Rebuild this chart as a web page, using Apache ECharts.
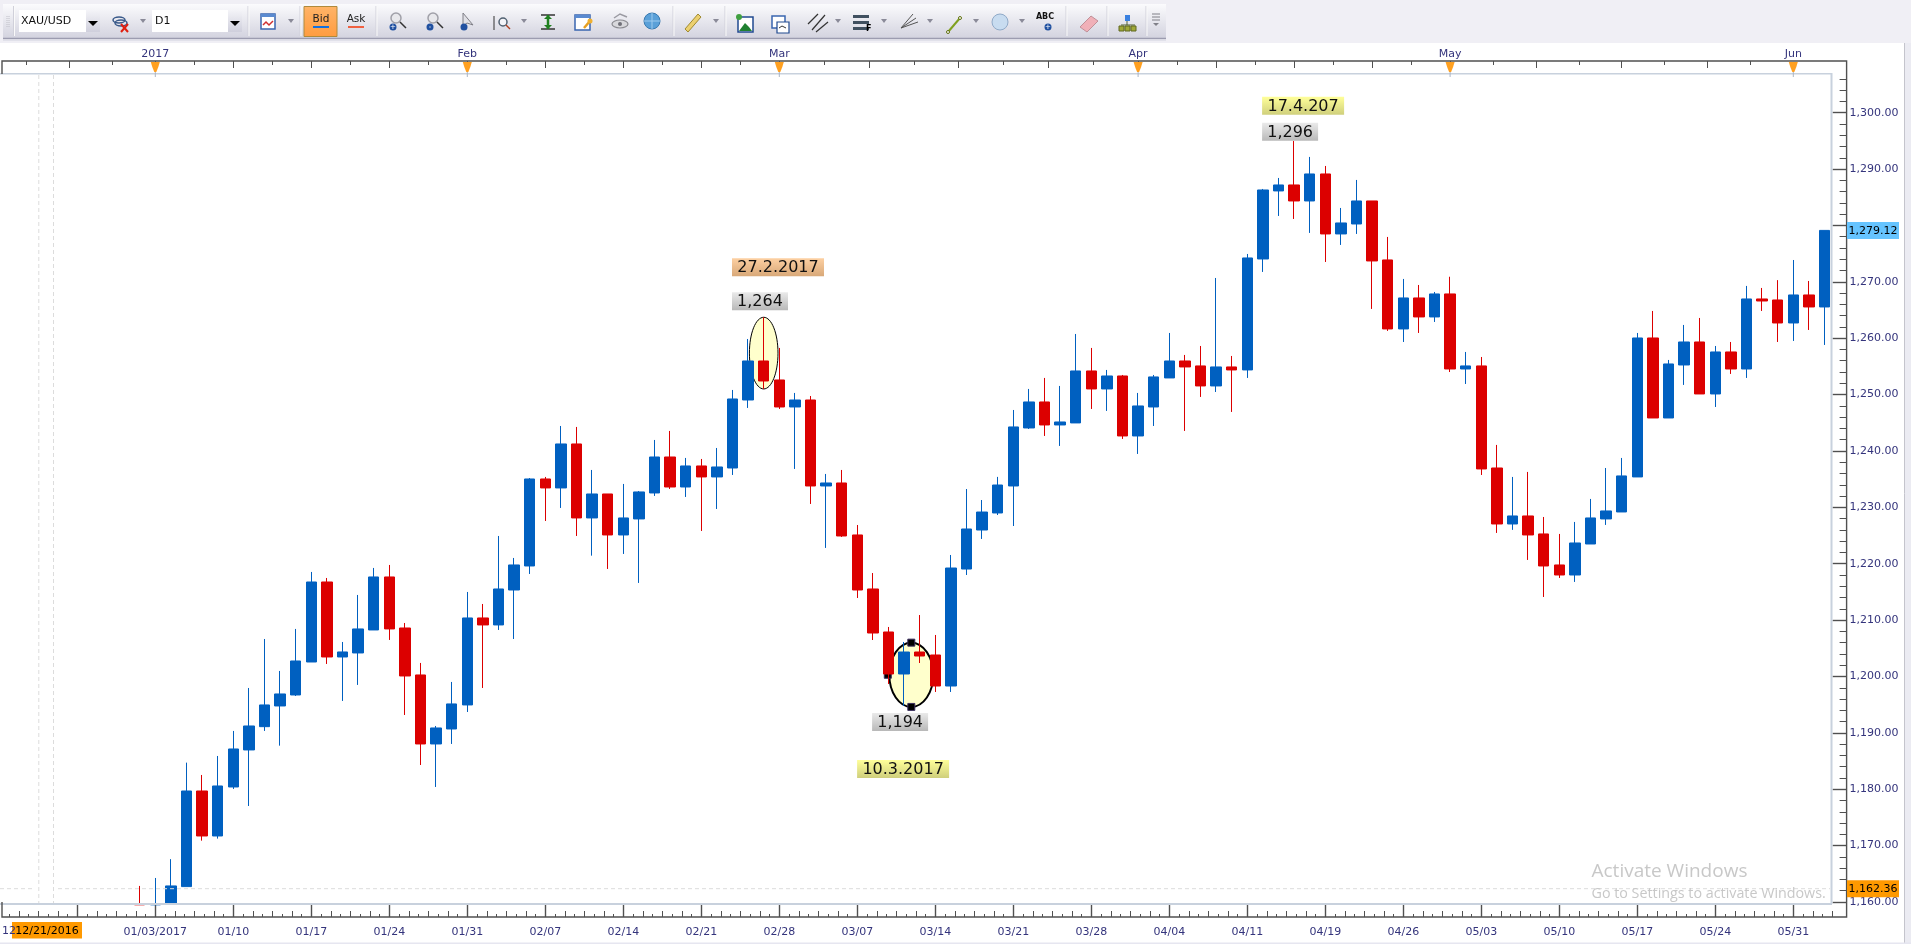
<!DOCTYPE html>
<html>
<head>
<meta charset="utf-8">
<title>XAU/USD D1</title>
<style>
html,body{margin:0;padding:0;background:#fff;overflow:hidden}
#main{width:1911px;height:944px}
</style>
<script src="https://cdn.jsdelivr.net/npm/echarts@6/dist/echarts.min.js"></script>
</head>
<body>
<div id="main"></div>
<script>
// 日期(每根K线一个)
var dates = ['12/21/2016','12/22','12/23','12/26','12/27','12/28','12/29','12/30','01/02','01/03/2017',
    '01/04','01/05','01/06','01/09','01/10','01/11','01/12','01/13','01/16','01/17',
    '01/18','01/19','01/20','01/23','01/24','01/25','01/26','01/27','01/30','01/31',
    '02/01','02/02','02/03','02/06','02/07','02/08','02/09','02/10','02/13','02/14',
    '02/15','02/16','02/17','02/20','02/21','02/22','02/23','02/24','02/27','02/28',
    '03/01','03/02','03/03','03/06','03/07','03/08','03/09','03/10','03/13','03/14',
    '03/15','03/16','03/17','03/20','03/21','03/22','03/23','03/24','03/27','03/28',
    '03/29','03/30','03/31','04/03','04/04','04/05','04/06','04/07','04/10','04/11',
    '04/12','04/13','04/17','04/18','04/19','04/20','04/21','04/24','04/25','04/26',
    '04/27','04/28','05/01','05/02','05/03','05/04','05/05','05/08','05/09','05/10',
    '05/11','05/12','05/15','05/16','05/17','05/18','05/19','05/22','05/23','05/24',
    '05/25','05/26','05/29','05/30','05/31','06/01','06/02'];
// 前三根的实体在价格轴下面,看不到,只取到轴底
var opens = [null,null,null,null,null,null,null,null,1159.7,1159.5,
    1159.6,1162.73,1179.69,1171.71,1180.4,1186.97,1191.1,1194.77,1196.72,1202.57,
    1216.76,1203.46,1204.17,1208.25,1217.65,1208.6,1200.27,1188.03,1190.69,1194.95,
    1210.38,1209.14,1215.34,1219.6,1235.03,1233.44,1241.24,1228.12,1232.37,1225.1,
    1227.94,1232.55,1238.93,1233.61,1237.34,1235.39,1236.98,1249.04,1255.96,1252.59,
    1247.8,1249.04,1233.79,1234.32,1225.1,1215.52,1207.89,1200.44,1204.34,1203.81,
    1198.31,1219.06,1225.98,1229,1233.79,1244.08,1248.69,1244.61,1244.97,1254.19,
    1251,1253.3,1242.66,1247.8,1252.95,1255.96,1255.08,1251.53,1254.9,1254.37,
    1274.05,1286.12,1287.18,1284.34,1289.13,1278.49,1280.26,1284.34,1273.88,1261.64,
    1267.14,1263.77,1267.85,1254.54,1255.08,1236.98,1227.05,1228.47,1225.28,1219.78,
    1218,1223.5,1227.94,1229.18,1235.39,1260.04,1245.85,1255.25,1259.33,1250.11,
    1257.56,1254.54,1266.96,1266.78,1262.7,1267.67,1265.54];
var closes = [null,null,null,null,null,null,null,null,1159.5,1159.7,
    1162.85,1179.69,1171.71,1180.58,1187.14,1191.22,1194.95,1196.9,1202.75,1216.76,
    1203.46,1204.35,1208.43,1217.65,1208.43,1200.09,1188.03,1190.87,1195.13,1210.38,
    1209.14,1215.52,1219.78,1235.03,1233.44,1241.24,1228.12,1232.37,1225.1,1228.12,
    1232.73,1238.93,1233.61,1237.34,1235.39,1237.16,1249.22,1255.96,1252.41,1247.8,
    1249.04,1233.79,1234.32,1224.92,1215.34,1207.71,1200.44,1204.34,1203.63,1198.31,
    1219.24,1226.16,1229.17,1233.96,1244.26,1248.69,1244.61,1245.14,1254.19,1251,
    1253.3,1242.66,1247.98,1253.13,1255.96,1254.9,1251.53,1254.9,1254.37,1274.23,
    1286.29,1287.18,1284.34,1289.13,1278.49,1280.44,1284.34,1273.7,1261.64,1267.14,
    1263.77,1267.85,1254.54,1255.08,1236.81,1227.05,1228.47,1225.1,1219.6,1218,
    1223.68,1228.12,1229.36,1235.57,1260.04,1245.85,1255.43,1259.33,1250.11,1257.56,
    1254.54,1266.96,1266.6,1262.7,1267.67,1265.54,1279.12];
var lows = [null,null,null,null,null,null,null,null,1159.5,1159.5,
    1159.6,1162.73,1170.88,1171.24,1180.05,1177.03,1190.34,1187.73,1196.54,1202.57,
    1202.22,1195.66,1198.5,1208.25,1206.48,1193.17,1184.3,1180.4,1188.03,1193.7,
    1197.96,1208.25,1206.65,1218.18,1227.58,1229.89,1224.92,1221.43,1219.07,1221.73,
    1216.59,1232.02,1233.26,1231.84,1225.81,1229.71,1235.74,1247.63,1251,1247.45,
    1236.81,1230.6,1222.8,1224.75,1213.92,1206.47,1198.67,1194.77,1202.39,1197.25,
    1197.25,1218,1224.39,1228.64,1226.69,1243.9,1242.66,1240.89,1244.97,1247.45,
    1247.1,1242.13,1239.47,1244.43,1252.95,1243.55,1249.58,1250.46,1246.92,1252.95,
    1271.75,1281.68,1281.15,1278.67,1273.52,1276.54,1278.49,1265.19,1261.29,1259.33,
    1260.93,1262.88,1254,1251.88,1235.74,1225.46,1226,1220.67,1214.1,1217.47,
    1216.77,1223.5,1226.88,1229.18,1235.39,1245.85,1245.85,1251.71,1250.11,1247.8,
    1253.66,1252.95,1264.83,1259.33,1259.51,1261.46,1258.8];
var highs = [null,null,null,null,null,null,null,null,1162.85,1164.26,
    1167.6,1184.72,1182.53,1185.9,1190.34,1197.96,1206.65,1200.98,1208.43,1218.54,
    1217.47,1206.12,1214.46,1219.25,1219.78,1209.49,1202.4,1191.22,1199.03,1214.99,
    1212.86,1224.92,1221.02,1235.2,1235.39,1244.43,1244.26,1236.63,1232.37,1234.15,
    1232.9,1241.95,1243.55,1238.76,1238.58,1240.53,1250.82,1259.86,1263.71,1258.27,
    1250.29,1249.75,1235.92,1236.63,1226.87,1218.35,1208.78,1206.12,1210.9,1207.36,
    1221.55,1233.25,1231.3,1235.4,1247.27,1251,1252.95,1251.53,1260.75,1258.27,
    1254.37,1253.48,1250.29,1253.48,1260.93,1257.03,1258.62,1270.68,1256.85,1274.94,
    1286.47,1288.42,1295,1292.15,1290.55,1283.1,1288.07,1284.34,1277.96,1270.51,
    1269.44,1268.2,1270.9,1257.56,1256.67,1241.07,1235.39,1236.28,1228.29,1225.28,
    1227.41,1231.49,1236.98,1238.76,1260.93,1264.83,1256.14,1262.35,1263.59,1258.62,
    1259.33,1269.27,1268.91,1270.3,1273.87,1270.15,1279.12];
var priceTicks = [1160,1170,1180,1190,1200,1210,1220,1230,1240,1250,1260,1270,1280,1290,1300];
var priceLabels = [1160,1170,1180,1190,1200,1210,1220,1230,1240,1250,1260,1270,1290,1300];
var lastPrice = 1279.12;
var lowPrice = 1162.36;
var monthNames = ['2017','Feb','Mar','Apr','May','Jun'];
var monthBars = [9,29,49,72,92,114];

var COL_UP = '#0060c0', COL_DOWN = '#dc0000', COL_TEXT = '#34347c', COL_AXIS = '#505050', COL_FRAME = '#c8d1dd', COL_DASH = '#dcdcdc';
var FONT = '"DejaVu Sans"';

//K线数据
var ohlc = dates.map(function(d,i){
    return opens[i]==null ? ['-','-','-','-'] : [opens[i],closes[i],lows[i],highs[i]];
});

//刻度位置
var weekMajor = [], weekTall = [], weekShort = [];
for(var w=-1;w<=22;w++){
    var b = 4+5*w;
    if(b>=0 && b<=116) weekMajor.push(b);
    for(var k=1;k<8;k++){
        var t = b+k*0.625;
        if(t<-0.5||t>116.5) continue;
        if(k%2==0) weekTall.push(t); else weekShort.push(t);
    }
}
var bottomLabels = weekMajor.filter(function(b){return b>=9;});
var topMajor = [], topMinor = [];
[9-3*2.76,9-2*2.76,9-2.76].forEach(function(t,i){ (i==1?topMajor:topMinor).push(t); });
for(var m=0;m<monthBars.length-1;m++){
    for(var k=0;k<8;k++){
        var t = monthBars[m]+(monthBars[m+1]-monthBars[m])*k/8;
        (k%2==0?topMajor:topMinor).push(t);
    }
}
var minorPrices = [];
for(var p=1160;p<=1306;p+=2){ if(p%10!=0) minorPrices.push(p); }

function tickAxis(pos,offset,ticks,len,color){
    return {
        type:'value', position:pos, offset:offset, min:-0.5, max:116.5, gridIndex:0,
        axisLine:{show:false,onZero:false}, splitLine:{show:false},
        axisLabel:{show:false},
        axisTick:{show:true, inside:true, length:len, customValues:ticks, lineStyle:{color:color||COL_AXIS,width:1}}
    };
}
var bottomMain = tickAxis('bottom',15,weekMajor,13);
bottomMain.axisTick.lineStyle.width = 1.4;
bottomMain.axisLabel = {show:true, customValues:bottomLabels, margin:10, color:COL_TEXT, fontFamily:FONT, fontSize:11, hideOverlap:false,
    formatter:function(v){return dates[v];}};
var topMain = tickAxis('top',13,topMajor,7);
topMain.axisLabel = {show:true, customValues:monthBars, margin:1, color:COL_TEXT, fontFamily:FONT, fontSize:11, hideOverlap:false,
    formatter:function(v){return monthNames[monthBars.indexOf(v)];}};

function priceFmt(v){
    var s = v.toFixed(2);
    return s.charAt(0)+','+s.slice(1);
}

var myChart = echarts.init(document.getElementById('main'));
var GRID = {left:7.1, top:74, width:1825.2, height:828};
var option = {
    animation:false,
    backgroundColor:'#ffffff',
    grid:GRID,
    xAxis:[
        {type:'category', data:dates, boundaryGap:true, axisLine:{show:false,onZero:false}, axisTick:{show:false}, axisLabel:{show:false}, splitLine:{show:false}},
        bottomMain,
        tickAxis('bottom',15,weekTall,6),
        tickAxis('bottom',15,weekShort,3),
        topMain,
        tickAxis('top',13,topMinor,4)
    ],
    yAxis:[
        {type:'value', position:'right', min:1160, max:1306.86, offset:14.3, scale:true,
            axisLine:{show:false,onZero:false}, splitLine:{show:false},
            axisTick:{show:true, inside:true, length:14, customValues:priceTicks, lineStyle:{color:COL_AXIS,width:1.4}},
            axisLabel:{show:true, customValues:priceLabels, margin:3, padding:[3,0,0,0], color:COL_TEXT, fontFamily:FONT, fontSize:11, hideOverlap:false, showMinLabel:true, showMaxLabel:true, formatter:priceFmt}},
        {type:'value', position:'right', min:1160, max:1306.86, offset:14.3,
            axisLine:{show:false,onZero:false}, splitLine:{show:false}, axisLabel:{show:false},
            axisTick:{show:true, inside:true, length:7, customValues:minorPrices, lineStyle:{color:COL_AXIS,width:1}}}
    ],
    series:[{
        type:'candlestick',
        name:'XAU/USD',
        xAxisIndex:0, yAxisIndex:0,
        data:ohlc,
        barWidth:11,
        clip:true,
        z:5,
        itemStyle:{color:COL_UP, color0:COL_DOWN, borderColor:COL_UP, borderColor0:COL_DOWN, borderWidth:1}
    }]
};
myChart.setOption(option);

//----- 以下是工具栏和标注 -----
function px(i,v){ return myChart.convertToPixel({xAxisIndex:0,yAxisIndex:0},[i,v]); }
function grad(a,b){ return new echarts.graphic.LinearGradient(0,0,0,1,[{offset:0,color:a},{offset:1,color:b}]); }
var els = [];
function rect(x,y,w,h,fill,stroke,lw,z){ els.push({type:'rect',silent:true,z:z||20,shape:{x:x,y:y,width:w,height:h},style:{fill:fill||'none',stroke:stroke||'none',lineWidth:lw||1}}); }
function line(x1,y1,x2,y2,col,lw,dash,z){ els.push({type:'line',silent:true,z:z||20,shape:{x1:x1,y1:y1,x2:x2,y2:y2},style:{stroke:col,lineWidth:lw||1,lineDash:dash||null}}); }
function poly(pts,fill,stroke,lw,z){ els.push({type:'polygon',silent:true,z:z||20,shape:{points:pts},style:{fill:fill||'none',stroke:stroke||'none',lineWidth:lw||1}}); }
function pline(pts,col,lw,z){ els.push({type:'polyline',silent:true,z:z||20,shape:{points:pts},style:{fill:'none',stroke:col,lineWidth:lw||1}}); }
function circ(x,y,r,fill,stroke,lw){ els.push({type:'circle',silent:true,z:20,shape:{cx:x,cy:y,r:r},style:{fill:fill||'none',stroke:stroke||'none',lineWidth:lw||1}}); }
function ell(x,y,rx,ry,fill,stroke,lw,z){ els.push({type:'ellipse',silent:true,z:z,shape:{cx:x,cy:y,rx:rx,ry:ry},style:{fill:fill,stroke:stroke,lineWidth:lw}}); }
function txt(x,y,s,size,col,align,fam,weight){ els.push({type:'text',silent:true,z:22,x:x,y:y,style:{text:s,fontSize:size,fontFamily:fam||FONT,fontWeight:weight||'normal',fill:col,align:align||'left',verticalAlign:'middle'}}); }
function tag(x,y,w,h,s,size,a,b){
    rect(x,y,w,h,grad(a,b));
    txt(x+w/2,y+h/2+1,s,size,'#111','center');
}
function arrowDown(x){ poly([[x-3,19],[x+3,19],[x,23]],'#8a8a98'); }

//窗口底色
rect(0,0,1911,43,'#f0eff5');
rect(1904.5,43,6.5,901,'#ebebf2');
line(1904.5,43,1904.5,944,'#c4c4cc',1);
rect(0,942.5,1911,1.5,'#e6e6f0');

//工具栏
rect(3,4,1163,34,grad('#fbfbfd','#d3d3df'));
line(3,38.5,1166,38.5,'#9c9cb0',1.5);
line(3,40,1166,40,'#dcdce6',1.5);
[7,9].forEach(function(x){ line(x,16,x,28,'#c0c0c8',1,[1,1]); });
[13.5,248,300,376,673,725,1066,1107,1146].forEach(function(x){ line(x,6,x,36,'#d0d0da',1); line(x+1,6,x+1,36,'#fafafa',1); });
rect(19,10,81,22,'#ffffff');
rect(86,10,14,22,grad('#f4f4f8','#cfcfdc'));
poly([[88,21],[98,21],[93,26]],'#000');
txt(21,21,'XAU/USD',11,'#111');
rect(152,10,76,22,'#ffffff');
rect(228,10,14,22,grad('#f4f4f8','#cfcfdc'));
poly([[230,21],[240,21],[235,26]],'#000');
txt(155,21,'D1',11,'#111');
//链接图标
ell(119,20,6,3,'none','#3a5a8a',1.5,20); ell(121,23,6,3,'none','#3a5a8a',1.5,20);
line(121,24,128,32,'#e02010',2); line(128,24,121,32,'#e02010',2);
arrowDown(143); arrowDown(291); arrowDown(524); arrowDown(716); arrowDown(838); arrowDown(884); arrowDown(930); arrowDown(976); arrowDown(1022);
//图表样式
rect(261,14,14,15,'#fff','#3a66b0',1.5);
rect(261,14,14,3,'#5a8ad0');
pline([[263,25],[266,22],[269,25],[273,21]],'#d03030',1.5);
//Bid Ask
rect(304,6.5,33,30,grad('#ffb468','#ff9c40'),'#b08a3c');
txt(321,19,'Bid',10.5,'#222','center');
rect(313,26,16,2,'#1070e0');
txt(356,19,'Ask',10.5,'#222','center');
rect(348,26,16,2,'#f06040');
//放大缩小
[[396,'+'],[433,'-']].forEach(function(o){
    circ(o[0],18,5,'#e8e8ec','#a0a0a8',1.5);
    line(o[0]+4,22,o[0]+10,28,'#333',1.5);
    circ(o[0]-3,27,3.5,'#2050a0');
    txt(o[0]-3,27,o[1],7,'#fff','center');
});
poly([[463,13],[463,26],[467,23],[473,25]],'#e0e0e6','#808088');
circ(464,27,3.5,'#2050a0');
line(494,16,494,30,'#333',1); circ(503,22,4,'#f4f4f8','#506070',1.5); line(506,25,510,29,'#b04020',1.5);
//垂直箭头
line(541,15,555,15,'#333',1.5); line(541,29,555,29,'#333',1.5);
line(548,15,548,29,'#208020',2.5); poly([[544,19],[552,19],[548,15]],'#208020'); poly([[544,25],[552,25],[548,29]],'#208020');
//属性
rect(575,15,15,15,'#fff','#3a66b0',1.5); rect(575,15,15,3,'#5a8ad0');
line(584,28,590,21,'#e8a020',2.5); circ(590,21,2.5,'#f0b030');
//眼睛
ell(620,24,8,4,'#d8d8dc','#8a8a90',1.2,20); circ(620,24,2,'#707078'); pline([[614,18],[620,14],[627,17]],'#9a9aa2',1.5);
//地球
circ(652,21,8,'#5aa0d8','#3a7ab0',1); line(644,21,660,21,'#9ccaee',1); line(652,13,652,29,'#9ccaee',1);
//尺子
poly([[685,29],[698,14],[701,17],[688,32]],'#ecd070','#a08a30');
//图片
rect(738,17,15,15,'#fff','#204a90',1.5); poly([[739,31],[745,23],[749,27],[752,31]],'#208030'); circ(739,17,3,'#40a040');
rect(772,16,13,12,'#fff','#3a66b0',1.5); rect(777,22,12,11,'#fff','#204a90',1.2); pline([[779,28],[782,26],[786,28]],'#333',1);
//叉线
line(812,30,825,15,'#333',1.2); line(808,24,818,14,'#333',1.2); line(816,32,828,22,'#333',1.2);
//菲波
[15,21,27].forEach(function(y){ rect(853,y,16,3,'#405060'); });
txt(866,29,'F',8,'#000','left',FONT,'bold');
//扇形
[[913,14],[916,18],[918,22]].forEach(function(o){ line(901,28,o[0],o[1],'#555',1); });
//直线
line(948,32,960,18,'#80a020',2); circ(948,32,1.5,'#fff','#607010'); circ(960,18,1.5,'#fff','#607010');
//椭圆
circ(1000,22,8,'#c8dcf0','#90aac8',1);
//ABC
txt(1045,17,'ABC',8,'#111','center',FONT,'bold'); circ(1048,27,3.5,'#2050a0'); txt(1048,27,'+',7,'#fff','center');
//橡皮
poly([[1080,27],[1091,16],[1098,21],[1087,32]],'#f0b0b8','#c09098');
//组织图
rect(1125,15,5,6,'#3a80e0'); line(1127,21,1127,25,'#506030',1); line(1121,25,1135,25,'#506030',1);
[1119,1125,1131].forEach(function(x){ rect(x,26,5,5,'#a0a838','#606820'); });
//溢出
[14,17,20].forEach(function(y){ line(1152,y,1160,y,'#808088',1); });
poly([[1153,23],[1159,23],[1156,26]],'#808088');

//外框
rect(0,73,1831.5,1.6,COL_FRAME);
rect(1830.5,73,2,831,COL_FRAME);
rect(0,903,1832,2,COL_FRAME);
pline([[2,74],[2,61],[1846.6,61],[1846.6,917],[2,917],[2,902]],COL_AXIS,1.4);

//虚线(十字线)
var yLow = px(0,lowPrice)[1];
line(0,yLow,34,yLow,COL_DASH,1,[4,3],8);
line(58,yLow,1830,yLow,COL_DASH,1,[4,3],8);
line(38.8,75,38.8,903,COL_DASH,1,[4,3],8);
line(53.5,75,53.5,903,COL_DASH,1,[4,3],8);

//月份标记
monthBars.forEach(function(b){
    var x = px(b,1200)[0];
    line(x,70,x,77,'#aab4c4',1);
    poly([[x-4.5,62],[x+4.5,62],[x+3,67],[x+1,72],[x-1,72],[x-3,67]],'#ffa020');
});

//右侧价格标签
var yLast = px(0,lastPrice)[1];
rect(1847,yLast-8.5,52,17,'#66c4ff');
txt(1873,yLast+0.5,priceFmt(lastPrice),11,'#000','center');
rect(1847,yLow-8.5,52,17,'#ff9900');
txt(1873,yLow+0.5,priceFmt(lowPrice),11,'#000','center');

//左下角日期
txt(2,931,'12',11,COL_TEXT);
rect(12,922,70,16.5,'#ff9900');
txt(47,931,dates[0],11,'#000','center');

//椭圆标注,放在K线下面
var top48 = px(48,1263.71), bot48 = px(48,1251);
ell(top48[0],(top48[1]+bot48[1])/2,14.3,(bot48[1]-top48[1])/2,'#ffffcc','#000',1,1);
var top57 = px(57,1206), bot57 = px(57,1194.6);
var cx57 = top57[0]+7.2, cy57 = (top57[1]+bot57[1])/2;
ell(cx57,cy57,22,(bot57[1]-top57[1])/2,'#ffffcc','#000',2,1);
[[cx57,top57[1]],[cx57,bot57[1]],[cx57-23.5,cy57],[cx57+23.5,cy57]].forEach(function(p){
    rect(p[0]-3.5,p[1]-3.5,7,7,'#000','#3c3060',1,1);
});

//文字标注
var GRAY = ['#eaeaea','#b8b8b8'], YEL = ['#ffff99','#cfcf7c'], ORG = ['#fdd0a2','#d8a878'];
var hi48 = top48, lo57 = px(57,1194.77), hi82 = px(82,1295);
tag(hi48[0]-31.7,hi48[1]-59,92,18,'27.2.2017',16,ORG[0],ORG[1]);
tag(hi48[0]-31.7,hi48[1]-25,56,18,'1,264',16,GRAY[0],GRAY[1]);
tag(lo57[0]-47,lo57[1]+54,92,18,'10.3.2017',16,YEL[0],YEL[1]);
tag(lo57[0]-32,lo57[1]+7,56,18,'1,194',16,GRAY[0],GRAY[1]);
tag(hi82[0]-32,hi82[1]-44,82,18,'17.4.207',16,YEL[0],YEL[1]);
tag(hi82[0]-32,hi82[1]-18,56,18,'1,296',16,GRAY[0],GRAY[1]);

//水印
txt(1591.5,872,'Activate Windows',19,'#c8c8c8','left','"Open Sans"');
txt(1591.5,894,'Go to Settings to activate Windows.',14.3,'#c8c8c8','left','"Open Sans"');

myChart.setOption({graphic:{elements:els}});
</script>
</body>
</html>
